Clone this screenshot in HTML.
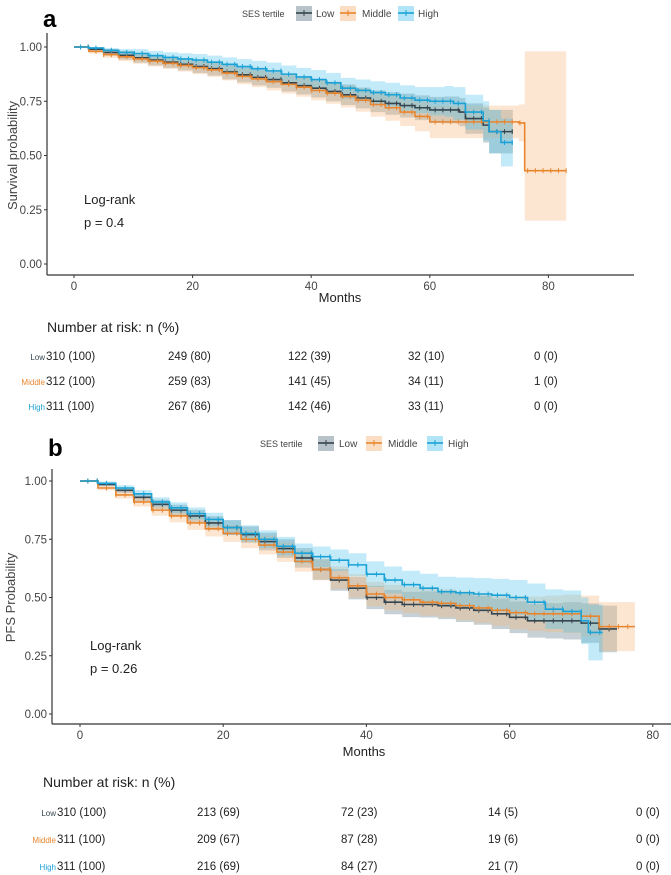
<!DOCTYPE html>
<html><head><meta charset="utf-8">
<style>
body{margin:0;background:#fff;width:671px;height:875px;overflow:hidden;font-family:"Liberation Sans",sans-serif;}
svg{position:absolute;left:0;top:0}
text{font-family:"Liberation Sans",sans-serif;}
</style></head>
<body>
<svg id="chart" width="671" height="875"></svg>
<script>
// ---------- Panel a: overall survival ----------
const aLowT = [0,2.5,5,7.5,10,12.5,15,17.5,20,22.5,25,27.5,30,32.5,35,37.5,40,42.5,45,47.5,50,52.5,55,57.5,60,62.5,65,66,69,70,74];
const aLowS = [1,.99,.975,.962,.95,.94,.93,.92,.91,.90,.885,.872,.86,.85,.835,.822,.81,.795,.78,.765,.75,.74,.73,.72,.71,.71,.70,.67,.64,.61,.61];
const aLowW = [0,.01,.015,.02,.022,.025,.027,.028,.03,.032,.034,.035,.037,.038,.04,.041,.043,.045,.047,.048,.05,.052,.055,.057,.06,.062,.065,.07,.08,.10,.10];
const aMidT = [0,2.5,5,7.5,10,12.5,15,17.5,20,22.5,25,27.5,30,32.5,35,37.5,40,42.5,45,47.5,50,52.5,55,57.5,60,75,76,83];
const aMidS = [1,.98,.965,.955,.945,.935,.925,.915,.905,.895,.88,.865,.853,.84,.828,.815,.80,.787,.772,.755,.735,.72,.70,.68,.655,.65,.43,.43];
const aMidLo= [1,.97,.95,.935,.923,.911,.899,.887,.875,.863,.846,.829,.815,.80,.786,.771,.754,.739,.722,.702,.679,.66,.636,.612,.58,.565,.20,.20];
const aMidHi= [1,.99,.98,.975,.967,.959,.951,.943,.935,.927,.914,.901,.891,.88,.87,.859,.846,.835,.822,.808,.791,.78,.764,.748,.73,.735,.98,.98];
const aHighT = [0,2.5,5,7.5,10,12.5,15,17.5,20,22.5,25,27.5,30,32.5,35,37.5,40,42.5,45,47.5,50,52.5,55,57.5,60,62.5,64,66,69,70,72,74];
const aHighS = [1,.995,.985,.975,.97,.96,.952,.945,.94,.93,.92,.91,.90,.89,.875,.862,.85,.835,.81,.80,.79,.78,.765,.755,.75,.75,.74,.70,.66,.61,.56,.56];
const aHighW = [0,.005,.01,.015,.02,.022,.024,.026,.028,.03,.032,.034,.036,.038,.04,.042,.044,.046,.048,.05,.052,.055,.058,.06,.065,.07,.075,.08,.09,.10,.11,.11];
const aRiskLow  = ["310 (100)","249 (80)","122 (39)","32 (10)","0 (0)"];
const aRiskMid  = ["312 (100)","259 (83)","141 (45)","34 (11)","1 (0)"];
const aRiskHigh = ["311 (100)","267 (86)","142 (46)","33 (11)","0 (0)"];
// ---------- Panel b: PFS ----------
const bLowT = [0,2.5,5,7.5,10,12.5,15,17.5,20,22.5,25,27.5,30,32.5,35,37.5,40,42.5,45,47.5,50,52.5,55,57.5,60,62.5,65,67.5,70,72.5,75];
const bLowS = [1,.985,.96,.93,.90,.875,.85,.82,.80,.77,.74,.71,.67,.62,.575,.54,.50,.48,.47,.47,.465,.455,.445,.43,.415,.40,.40,.40,.39,.365,.365];
const bLowW = [0,.008,.012,.016,.02,.023,.026,.029,.032,.035,.038,.04,.042,.044,.046,.048,.05,.052,.054,.056,.058,.06,.062,.065,.068,.072,.076,.08,.085,.10,.10];
const bMidT = [0,2.5,5,7.5,10,12.5,15,17.5,20,22.5,25,27.5,30,32.5,35,37.5,40,42.5,45,47.5,50,52.5,55,57.5,60,62.5,65,67.5,70,72.5,77.5];
const bMidS = [1,.97,.94,.91,.875,.85,.82,.795,.775,.75,.725,.695,.655,.62,.585,.55,.515,.50,.49,.48,.475,.465,.455,.445,.435,.43,.43,.43,.42,.375,.375];
const bMidW = [0,.01,.015,.02,.024,.027,.03,.033,.036,.038,.04,.042,.044,.046,.048,.05,.052,.054,.056,.058,.06,.062,.064,.066,.07,.074,.078,.082,.088,.105,.105];
const bHighT = [0,2.5,5,7.5,10,12.5,15,17.5,20,22.5,25,27.5,30,32.5,35,37.5,40,42.5,45,47.5,50,52.5,55,57.5,60,62.5,65,67.5,70,71,73];
const bHighS = [1,.99,.97,.945,.91,.885,.86,.835,.80,.775,.75,.72,.69,.675,.66,.64,.60,.575,.555,.54,.525,.52,.515,.51,.50,.48,.45,.44,.40,.35,.35];
const bHighW = [0,.008,.012,.016,.02,.023,.026,.029,.032,.035,.038,.04,.042,.044,.046,.05,.055,.058,.06,.062,.064,.066,.068,.07,.075,.08,.085,.09,.10,.12,.12];
const bRiskLow  = ["310 (100)","213 (69)","72 (23)","14 (5)","0 (0)"];
const bRiskMid  = ["311 (100)","209 (67)","87 (28)","19 (6)","0 (0)"];
const bRiskHigh = ["311 (100)","216 (69)","84 (27)","21 (7)","0 (0)"];
const yTicks = [0,0.25,0.5,0.75,1];
const yTickLabels = ["0.00","0.25","0.50","0.75","1.00"];
const xTicks = [0,20,40,60,80];

const NS="http://www.w3.org/2000/svg";
const svg=document.getElementById('chart');
const COL={low:"#34454f",mid:"#e8862f",high:"#1aa2d6"};
const FILL={low:"#5f7a86",mid:"#f5b47a",high:"#4fc3ec"};
function mk(tag,attrs,parent){const e=document.createElementNS(NS,tag);for(const k in attrs)e.setAttribute(k,attrs[k]);(parent||svg).appendChild(e);return e;}
function txt(s,attrs,parent){const e=mk('text',attrs,parent);e.textContent=s;return e;}
function sub(a,b){return a.map((v,i)=>v-b[i]);}
function add(a,b){return a.map((v,i)=>v+b[i]);}

function panel(p){
  const g=mk('g',{});
  
  
  const X=t=>p.x0+t*p.xs, Y=v=>p.y0-(p.y0-p.y1)*v;
  const ax=mk('line',{x1:p.axL,y1:p.axTop,x2:p.axL,y2:p.axB,stroke:"#333","stroke-width":1.2},g);
  
  const bx=mk('line',{x1:p.axL,y1:p.axB,x2:p.axR,y2:p.axB,stroke:"#333","stroke-width":1.2},g);
  
  yTicks.forEach((v,i)=>{
    mk('line',{x1:p.axL-3,x2:p.axL,y1:Y(v),y2:Y(v),stroke:"#333"},g);
    const t=txt(yTickLabels[i],{x:p.axL-5,y:Y(v)+4,"text-anchor":"end","font-size":11.5,fill:"#444"},g);
    
  });
  xTicks.forEach(v=>{
    mk('line',{x1:X(v),x2:X(v),y1:p.axB,y2:p.axB+3,stroke:"#333"},g);
    const t=txt(String(v),{x:X(v),y:p.axB+15,"text-anchor":"middle","font-size":11.5,fill:"#444"},g);
    
  });
  const xt=txt("Months",{x:p.monthsX,y:p.monthsY,"text-anchor":"middle","font-size":13,fill:"#222"},g);
  
  const yt=txt(p.ytitle,{x:0,y:0,transform:`translate(${p.ytX},${Y(0.5)}) rotate(-90)`,"text-anchor":"middle","font-size":13,fill:"#444"},g);
  
  function stepPath(T,S){let d=`M${X(T[0])},${Y(S[0])}`;for(let i=1;i<T.length;i++){d+=`H${X(T[i])}V${Y(S[i])}`;}return d;}
  function band(T,L,H){let d=`M${X(T[0])},${Y(H[0])}`;for(let i=1;i<T.length;i++)d+=`H${X(T[i])}V${Y(H[i])}`;
    d+=`V${Y(L[L.length-1])}`;for(let i=T.length-1;i>0;i--)d+=`V${Y(L[i])}H${X(T[i])}V${Y(L[i-1])}`;d+=`H${X(T[0])}Z`;return d;}
  p.series.forEach(s=>{
    const b=mk('path',{d:band(s.T,s.L,s.H),fill:FILL[s.k],"fill-opacity":0.35,stroke:"none"},g);
    
  });
  p.series.forEach(s=>{
    const l=mk('path',{d:stepPath(s.T,s.S),fill:"none",stroke:COL[s.k],"stroke-width":1.6},g);
    
    const tEnd=s.T[s.T.length-1];
    for(let t=1.1;t<tEnd;t+=1.3){let j=0;while(j+1<s.T.length&&s.T[j+1]<=t)j++;
      mk('line',{x1:X(t),x2:X(t),y1:Y(s.S[j])-2.5,y2:Y(s.S[j])+2.5,stroke:COL[s.k],"stroke-width":1},g);}
  });
  const lr=txt("Log-rank",{x:p.lrX,y:p.lrY,"font-size":13,fill:"#222"},g);
  
  const pv=txt(p.pval,{x:p.lrX,y:p.lrY+23,"font-size":13,fill:"#222"},g);
  
  const pl=txt(p.letter,{x:p.letX,y:p.letY,"font-size":24,"font-weight":"bold",fill:"#000"},g);
  
  const lg=mk('g',{},g);
  
  txt("SES tertile",{x:p.leg.title,y:p.leg.y+4,"font-size":9,fill:"#444"},lg);
  [["low","Low"],["mid","Middle"],["high","High"]].forEach((k,i)=>{
    const bx0=p.leg.boxes[i];
    const e=mk('g',{},lg);
    
    mk('rect',{x:bx0,y:p.leg.y-7,width:16,height:15,fill:FILL[k[0]],"fill-opacity":0.45},e);
    mk('line',{x1:bx0,x2:bx0+16,y1:p.leg.y,y2:p.leg.y,stroke:COL[k[0]],"stroke-width":1.6},e);
    mk('line',{x1:bx0+8,x2:bx0+8,y1:p.leg.y-3,y2:p.leg.y+3,stroke:COL[k[0]]},e);
    txt(k[1],{x:p.leg.texts[i],y:p.leg.y+4,"font-size":10,fill:"#444"},e);
  });
  const hd=txt("Number at risk: n (%)",{x:p.riskHeadX,y:p.riskHeadY,"font-size":14,fill:"#222"},g);
  
  const rows=[["low","Low",p.risk[0]],["mid","Middle",p.risk[1]],["high","High",p.risk[2]]];
  rows.forEach((r,i)=>{
    const y=p.riskRows[i];
    const rl=txt(r[1],{x:p.riskLabelEnd,y:y+4,"text-anchor":"end","font-size":8,fill:COL[r[0]]},g);
    
    r[2].forEach((v,j)=>{
      const c=txt(v,{x:p.riskCols[j],y:y+4,"font-size":11.5,fill:"#222"},g);
      
    });
  });
}

panel({name:"panel-a-overall-survival",letter:"a",letX:43,letY:27,x0:74,xs:5.93,y0:264,y1:47,
  axL:47,axR:634,axTop:33,axB:275,monthsX:340,monthsY:302,ytitle:"Survival probability",ytX:17,
  lrX:84,lrY:204,pval:"p = 0.4",
  leg:{y:13,title:242,boxes:[296,340,398],texts:[316,362,418]},
  series:[{k:"low",T:aLowT,S:aLowS,L:sub(aLowS,aLowW),H:add(aLowS,aLowW)},
          {k:"mid",T:aMidT,S:aMidS,L:aMidLo,H:aMidHi},
          {k:"high",T:aHighT,S:aHighS,L:sub(aHighS,aHighW),H:add(aHighS,aHighW)}],
  risk:[aRiskLow,aRiskMid,aRiskHigh],riskHeadX:47,riskHeadY:332,riskRows:[356,381,406],riskLabelEnd:45,
  riskCols:[46,168,288,408,534]});
panel({name:"panel-b-pfs",letter:"b",letX:48,letY:456,x0:80,xs:7.16,y0:714,y1:481,
  axL:52,axR:671,axTop:469,axB:724,monthsX:364,monthsY:756,ytitle:"PFS Probability",ytX:15,
  lrX:90,lrY:650,pval:"p = 0.26",
  leg:{y:443,title:260,boxes:[318,366,427],texts:[339,388,448]},
  series:[{k:"low",T:bLowT,S:bLowS,L:sub(bLowS,bLowW),H:add(bLowS,bLowW)},
          {k:"mid",T:bMidT,S:bMidS,L:sub(bMidS,bMidW),H:add(bMidS,bMidW)},
          {k:"high",T:bHighT,S:bHighS,L:sub(bHighS,bHighW),H:add(bHighS,bHighW)}],
  risk:[bRiskLow,bRiskMid,bRiskHigh],riskHeadX:43,riskHeadY:787,riskRows:[812,839,866],riskLabelEnd:56,
  riskCols:[57,197,341,488,636]});
</script>
</body></html>
